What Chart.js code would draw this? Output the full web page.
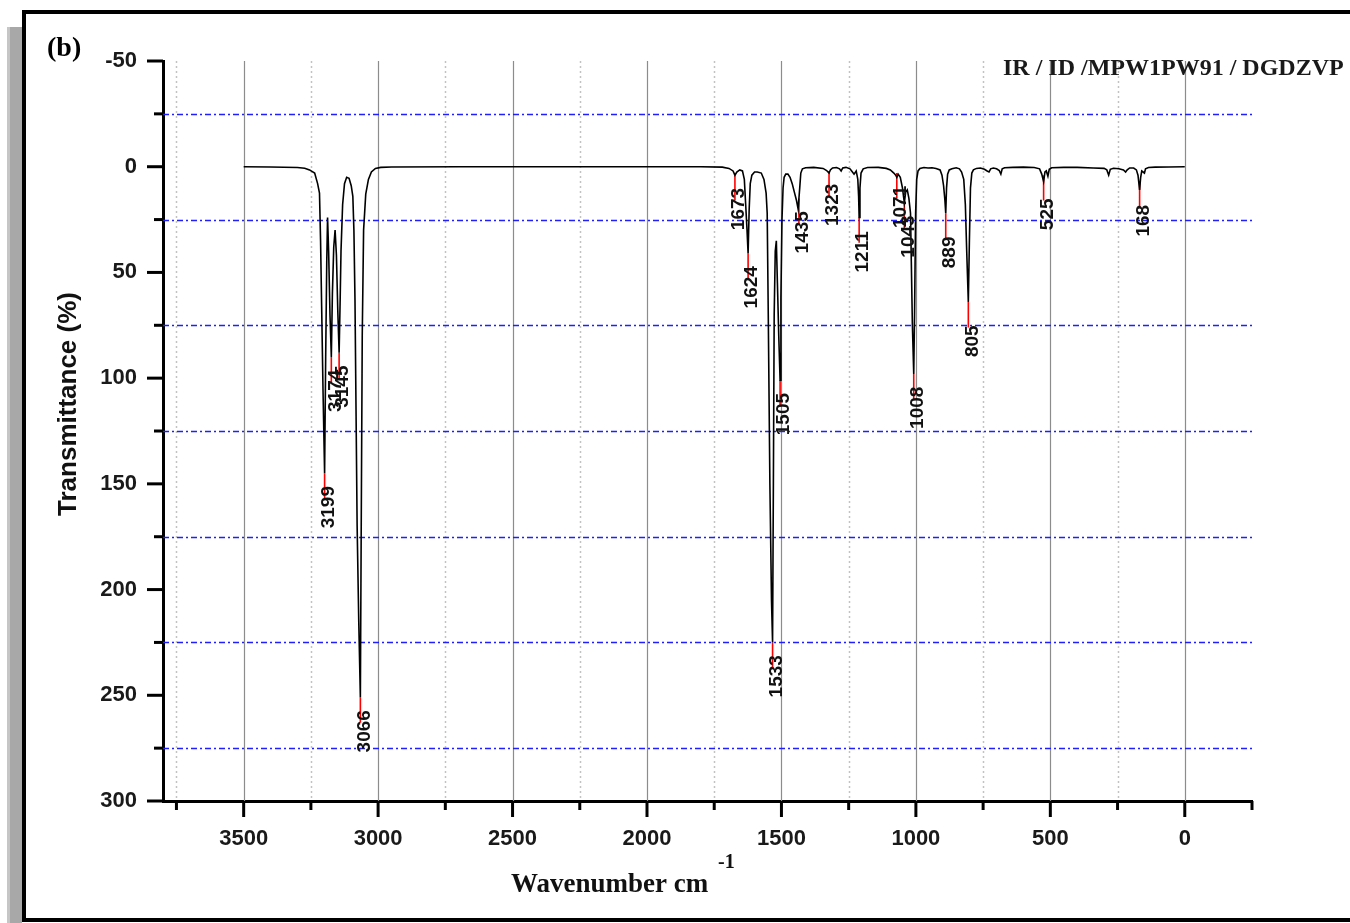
<!DOCTYPE html>
<html lang="en">
<head>
    <meta charset="utf-8" />
    <title>IR / ID /MPW1PW91 / DGDZVP</title>
    <script src="https://cdn.jsdelivr.net/npm/chart.js@4.4.1/dist/chart.umd.min.js"></script>
    <style>
        html, body { margin: 0; padding: 0; background: #fff; }
        body { width: 1350px; height: 923px; position: relative; overflow: hidden; }
        #shadow { position: absolute; left: 7px; top: 27px; width: 15px; height: 900px; background: #a8a8a8; border-left: 3px solid #c6c6c6; box-sizing: border-box; }
        #frame { position: absolute; left: 22px; top: 10px; width: 1340px; height: 904px; border: 4px solid #000; background: #fff; }
        #irChart { position: absolute; left: 0; top: 0; }
    </style>
</head>
<body>
    <div id="shadow"></div>
    <div id="frame"></div>
    <canvas id="irChart" width="1350" height="923"></canvas>

    <script type="text/javascript">
        // axis ranges (x runs high -> low)
        const xAxisRange = [-250, 3800];
        const yAxisRange = [-50, 300];
        const xTickLabels = [3500, 3000, 2500, 2000, 1500, 1000, 500, 0];

        // calculated spectrum: wavenumber (cm-1) and transmittance (%)
        const waveNumbers = [
            3500, 3400, 3300, 3273, 3255, 3236, 3225, 3218, 3214, 3210, 3205, 3199, 3195, 3191, 3188, 3184, 3179, 3174,
            3170, 3165, 3160, 3155, 3150, 3145, 3141, 3138, 3132, 3125, 3117, 3108, 3100, 3094, 3090, 3086, 3078, 3072,
            3066, 3063, 3059, 3054, 3046, 3036, 3025, 3010, 2990, 2950, 2700, 2200, 1800, 1720, 1695, 1680, 1673, 1666,
            1655, 1645, 1638, 1633, 1628, 1624, 1620, 1616, 1610, 1600, 1590, 1575, 1565, 1557, 1553, 1549, 1543, 1537,
            1533, 1530, 1527, 1523, 1519, 1515, 1510, 1505, 1502, 1498, 1494, 1490, 1484, 1476, 1468, 1460, 1452, 1444,
            1438, 1435, 1432, 1428, 1422, 1410, 1380, 1345, 1332, 1323, 1318, 1310, 1295, 1284, 1278, 1272, 1260, 1245,
            1236, 1230, 1222, 1216, 1213, 1211, 1208, 1204, 1196, 1180, 1140, 1110, 1095, 1082, 1075, 1071, 1066, 1058,
            1050, 1043, 1038, 1032, 1026, 1020, 1017, 1013, 1008, 1005, 1001, 997, 992, 985, 970, 955, 940, 925,
            910, 903, 897, 892, 889, 886, 882, 876, 866, 850, 838, 830, 822, 816, 811, 805, 801, 797,
            792, 786, 775, 760, 745, 735, 728, 722, 712, 700, 690, 684, 679, 670, 640, 600, 560, 540,
            532, 525, 520, 515, 509, 504, 495, 450, 400, 340, 300, 290, 283, 277, 265, 245, 228, 220,
            214, 205, 190, 180, 174, 168, 164, 160, 155, 150, 146, 135, 110, 60, 0
        ];
        const transmittance = [
            0, 0.1, 0.4, 0.7, 1.5, 3, 8, 12.5, 35, 66, 105, 145, 90, 45, 24, 40, 70, 90,
            60, 38, 30, 42, 68, 88, 62, 40, 18, 8, 5, 5.5, 9, 14, 30, 63, 170, 215,
            251, 175, 80, 30, 13, 6, 2.5, 0.8, 0.3, 0.1, 0, 0, 0, 0.2, 0.8, 2, 4, 2.5,
            1.5, 2, 6, 18, 30, 41, 20, 8, 4, 2.5, 2.5, 3, 6, 12.5, 22, 70, 150, 205,
            225, 150, 70, 40, 35, 55, 80, 101, 62, 25, 10, 5, 3.5, 3.5, 5, 8, 12, 16,
            20, 20, 10, 3, 1, 0.5, 0.3, 0.8, 1.8, 3, 1.5, 0.6, 0.4, 1, 2, 0.6, 0.3, 1,
            2.5, 3.5, 2, 6, 14, 24, 10, 3, 1, 0.4, 0.3, 0.8, 1.5, 3, 4, 5, 3.5, 5,
            10, 17, 12, 11, 15, 22, 45, 75, 98, 70, 22, 6, 2, 0.8, 0.4, 0.6, 0.5, 0.8,
            1.5, 4, 9, 16, 22, 10, 3.5, 1.5, 1, 0.5, 1, 2.5, 6, 18, 40, 64, 35, 10,
            3, 1.5, 0.8, 0.6, 1.2, 2, 2.5, 1, 0.6, 1, 1.8, 3.5, 1, 0.5, 0.3, 0.2, 0.4, 1,
            3.5, 7, 2.5, 2, 4.5, 1.2, 0.5, 0.3, 0.3, 0.6, 0.8, 1.5, 4, 1.2, 0.7, 1, 1.5, 2.5,
            1.5, 0.6, 0.6, 1.5, 4, 11, 5, 2, 2.5, 3, 1, 0.4, 0.2, 0.1, 0.05
        ];

        // labelled bands: position and depth of the drop marker
        const peakWaveNumbers = [3199, 3174, 3145, 3066, 1673, 1624, 1533, 1505, 1435, 1323, 1211, 1071, 1043, 1008, 889, 805, 525, 168];
        const peakDepths = [145, 90, 88, 251, 4, 41, 225, 101, 15, 2, 24, 3, 17, 98, 22, 64, 4, 7];
        const markerLength = 12;

        const sansFont = '"Liberation Sans", Arial, sans-serif';
        const serifFont = '"Liberation Serif", "Times New Roman", serif';

        let spectrumPoints = waveNumbers.map((w, i) => ({x: w, y: transmittance[i]}));

        let markerPoints = [];
        peakWaveNumbers.forEach((w, i) => {
            markerPoints.push({x: w, y: peakDepths[i]});
            markerPoints.push({x: w, y: peakDepths[i] + markerLength});
            markerPoints.push({x: w, y: null});
        });

        // grid, tick marks and text around the plot
        const spectrumDecor = {
            id: 'spectrumDecor',
            beforeDatasetsDraw(chart) {
                const ctx = chart.ctx;
                const area = chart.chartArea;
                const xs = chart.scales.x;
                const ys = chart.scales.y;
                ctx.save();
                for (let v = 0; v < xAxisRange[1]; v += 250) {
                    let px = Math.round(xs.getPixelForValue(v)) + 0.5;
                    ctx.beginPath();
                    if (v % 500 === 0) {
                        ctx.strokeStyle = '#8c8c8c';
                        ctx.lineWidth = 1.2;
                        ctx.setLineDash([]);
                    } else {
                        ctx.strokeStyle = '#c2c2c2';
                        ctx.lineWidth = 1.5;
                        ctx.setLineDash([2, 3]);
                    }
                    ctx.moveTo(px, area.top);
                    ctx.lineTo(px, area.bottom);
                    ctx.stroke();
                }
                ctx.strokeStyle = '#1f1fff';
                ctx.lineWidth = 1.6;
                ctx.setLineDash([6, 3, 2, 3]);
                for (let v = -25; v < yAxisRange[1]; v += 50) {
                    let py = Math.round(ys.getPixelForValue(v)) + 0.5;
                    ctx.beginPath();
                    ctx.moveTo(area.left, py);
                    ctx.lineTo(area.right, py);
                    ctx.stroke();
                }
                ctx.restore();
            },
            afterDraw(chart) {
                const ctx = chart.ctx;
                const area = chart.chartArea;
                const xs = chart.scales.x;
                const ys = chart.scales.y;
                ctx.save();

                // tick marks
                ctx.strokeStyle = '#000';
                ctx.lineWidth = 3;
                for (let v = xAxisRange[0]; v < xAxisRange[1]; v += 250) {
                    let px = xs.getPixelForValue(v);
                    ctx.beginPath();
                    ctx.moveTo(px, area.bottom);
                    ctx.lineTo(px, area.bottom + (v % 500 === 0 ? 16 : 9));
                    ctx.stroke();
                }
                for (let v = yAxisRange[0]; v <= yAxisRange[1]; v += 25) {
                    let py = ys.getPixelForValue(v);
                    ctx.beginPath();
                    ctx.moveTo(area.left, py);
                    ctx.lineTo(area.left - (v % 50 === 0 ? 16 : 9), py);
                    ctx.stroke();
                }

                // wavenumber tick labels
                ctx.fillStyle = '#1a1a1a';
                ctx.font = 'bold 22px ' + sansFont;
                ctx.textAlign = 'center';
                ctx.textBaseline = 'alphabetic';
                xTickLabels.forEach(v => {
                    ctx.fillText(String(v), xs.getPixelForValue(v), area.bottom + 44);
                });

                // band labels, written upwards below each marker
                ctx.fillStyle = '#111';
                ctx.font = 'bold 19px ' + sansFont;
                ctx.textAlign = 'left';
                ctx.textBaseline = 'middle';
                peakWaveNumbers.forEach((w, i) => {
                    let px = xs.getPixelForValue(w);
                    let py = ys.getPixelForValue(peakDepths[i]);
                    ctx.save();
                    ctx.translate(px + 4, py + 55);
                    ctx.rotate(-Math.PI / 2);
                    ctx.fillText(String(w), 0, 0);
                    ctx.restore();
                });

                // panel letter and method caption
                ctx.fillStyle = '#000';
                ctx.textBaseline = 'alphabetic';
                ctx.font = 'bold 28px ' + serifFont;
                ctx.fillText('(b)', 47, 56);
                ctx.fillStyle = '#1a1a1a';
                ctx.font = 'bold 24px ' + serifFont;
                ctx.fillText('IR / ID /MPW1PW91 / DGDZVP', 1003, 75);

                // axis titles
                ctx.fillStyle = '#111';
                ctx.font = 'bold 27px ' + serifFont;
                ctx.fillText('Wavenumber cm', 511, 892);
                ctx.font = 'bold 20px ' + serifFont;
                ctx.fillText('-1', 718, 868);

                ctx.font = 'bold 26px ' + sansFont;
                ctx.textAlign = 'center';
                ctx.textBaseline = 'middle';
                ctx.translate(69, 404);
                ctx.rotate(-Math.PI / 2);
                ctx.fillText('Transmittance (%)', 0, 0);
                ctx.restore();
            }
        };

        let chartContext = document.getElementById('irChart').getContext('2d');
        let irChart = new Chart(chartContext, {
            type: 'line',
            data: {
                datasets: [
                    {
                        label: 'spectrum',
                        data: spectrumPoints,
                        borderColor: '#000',
                        borderWidth: 1.6,
                        pointRadius: 0,
                        tension: 0,
                        fill: false
                    },
                    {
                        label: 'bands',
                        data: markerPoints,
                        borderColor: '#ff0000',
                        borderWidth: 1.6,
                        pointRadius: 0,
                        spanGaps: false,
                        fill: false
                    }
                ]
            },
            options: {
                responsive: false,
                devicePixelRatio: 1,
                animation: false,
                events: [],
                layout: {padding: {top: 61, right: 98, bottom: 0, left: 0}},
                plugins: {legend: {display: false}, tooltip: {enabled: false}},
                scales: {
                    x: {
                        type: 'linear',
                        reverse: true,
                        min: xAxisRange[0],
                        max: xAxisRange[1],
                        grid: {display: false, drawTicks: false},
                        border: {display: true, color: '#000', width: 3},
                        ticks: {display: false, stepSize: 250},
                        afterFit: scale => { scale.height = 122; }
                    },
                    y: {
                        type: 'linear',
                        reverse: true,
                        min: yAxisRange[0],
                        max: yAxisRange[1],
                        grid: {display: false, drawTicks: false},
                        border: {display: true, color: '#000', width: 3},
                        ticks: {
                            stepSize: 25,
                            autoSkip: false,
                            padding: 26,
                            color: '#1a1a1a',
                            font: {family: sansFont, size: 22, weight: 'bold'},
                            callback: v => (v % 50 === 0 ? String(v) : '')
                        },
                        afterFit: scale => { scale.width = 163; }
                    }
                }
            },
            plugins: [spectrumDecor]
        });
    </script>
</body>
</html>
